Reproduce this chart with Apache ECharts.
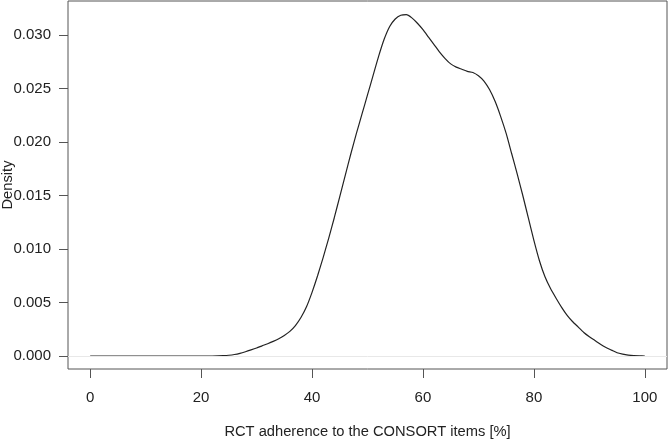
<!DOCTYPE html>
<html>
<head>
<meta charset="utf-8">
<script src="https://cdn.jsdelivr.net/npm/echarts@6/dist/echarts.min.js"></script>
<style>html,body{margin:0;padding:0;background:#fff;}#c{width:668px;height:441px;}</style>
</head>
<body>
<div id="c"></div>
<script>
// Adherence (%) grid and estimated kernel density (in units of 0.001)
const adherence = [];
for (let i = 0; i <= 100; i++) adherence.push(i);
const densityMilli = [
  0,0,0,0,0,0,0,0,0,0,
  0,0,0,0,0,0,0,0,0,0,
  0,0,0,0.01,0.03,0.07,0.14,0.25,0.4,0.57,
  0.75,0.95,1.15,1.37,1.62,1.92,2.3,2.85,3.6,4.6,
  5.95,7.5,9.2,11.0,12.9,14.9,16.9,18.9,20.8,22.6,
  24.4,26.2,28.0,29.6,30.8,31.5,31.85,31.9,31.6,31.1,
  30.5,29.8,29.1,28.4,27.8,27.3,27.0,26.8,26.6,26.5,
  26.2,25.7,24.9,23.8,22.4,20.8,18.9,17.0,15.0,12.9,
  10.8,8.9,7.4,6.3,5.4,4.55,3.8,3.2,2.7,2.2,
  1.8,1.45,1.1,0.8,0.55,0.3,0.17,0.08,0.03,0.01,0
];
const xTicks = [0, 20, 40, 60, 80, 100];
const yTicks = [0, 0.005, 0.010, 0.015, 0.020, 0.025, 0.030];

const points = adherence.map((x, i) => [x, densityMilli[i] / 1000]);

const font = 'Liberation Sans, Arial, Helvetica, sans-serif';
const chart = echarts.init(document.getElementById('c'), null, {renderer: 'canvas'});
chart.setOption({
  animation: false,
  backgroundColor: '#fff',
  grid: {left: 68, right: 1, top: 1, bottom: 72, containLabel: false, outerBoundsMode: 'none',
    show: true, borderColor: '#555', borderWidth: 1, backgroundColor: 'transparent'},
  xAxis: {
    type: 'value', min: -4, max: 104,
    name: 'RCT adherence to the CONSORT items [%]',
    nameLocation: 'middle', nameGap: 55, nameMoveOverlap: false,
    nameTextStyle: {fontFamily: font, fontSize: 14.7, color: '#222'},
    axisLine: {show: false, onZero: false},
    axisTick: {show: true, inside: false, length: 9, customValues: xTicks, lineStyle: {color: '#555'}},
    axisLabel: {customValues: xTicks, margin: 21, fontFamily: font, fontSize: 15, color: '#222'},
    splitLine: {show: false}
  },
  yAxis: {
    type: 'value', min: -0.001215, max: 0.033178,
    name: 'Density', nameLocation: 'middle', nameGap: 53, nameRotate: 90, nameMoveOverlap: false,
    nameTextStyle: {fontFamily: font, fontSize: 14.7, color: '#222'},
    axisLine: {show: false, onZero: false},
    axisTick: {show: true, inside: false, length: 9, customValues: yTicks, lineStyle: {color: '#555'}},
    axisLabel: {customValues: yTicks, margin: 17, fontFamily: font, fontSize: 15, color: '#222', formatter: v => v.toFixed(3)},
    splitLine: {show: false}
  },
  series: [{
    type: 'line', data: points, showSymbol: false, smooth: 0.2,
    lineStyle: {color: '#222', width: 1.2},
    markLine: {silent: true, symbol: 'none', label: {show: false},
      lineStyle: {color: '#e8e8e8', width: 1, type: 'solid'},
      data: [{yAxis: 0}]}
  }]
});
</script>
</body>
</html>
